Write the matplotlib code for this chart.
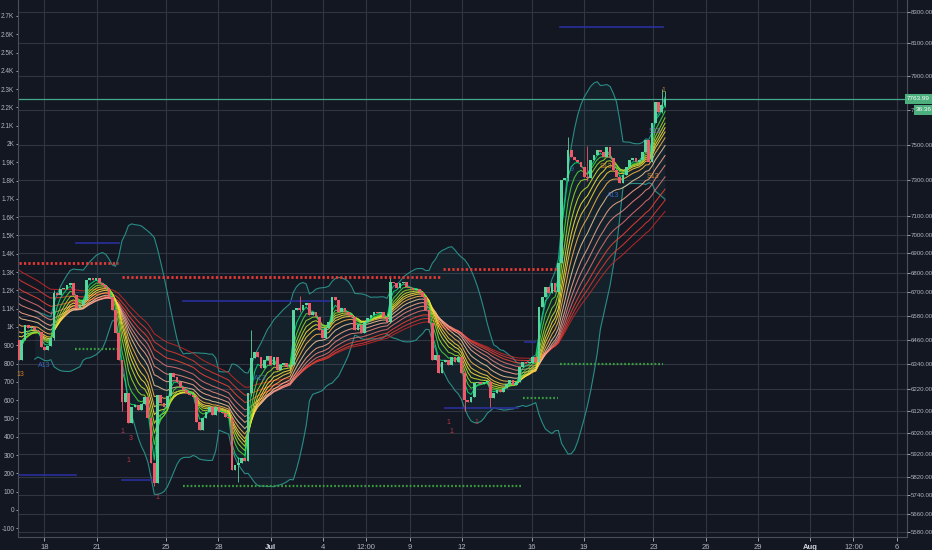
import numpy as np
import pandas as pd
import matplotlib
matplotlib.use("Agg")
import matplotlib.pyplot as plt

# ---- values (left-scale units) ----
first_day = 16.51      # first bar, day counted from Jun 1
last_day = 53.67       # last bar, Jul 23
first_open = 930

closes = [
    # Jun 16 - Jun 24
    820, 930, 1011, 993, 1002, 984, 975, 893, 875, 896, 938, 1184, 1175, 1206,
    1210, 1230, 1240, 1175, 1102, 1120, 1145, 1257, 1266, 1257, 1266, 1239, 1230,
    1212, 1166, 1093, 965, 820, 592, 637, 473, 565, 575, 546, 580, 619, 501, 255,
    145, 628,
    # Jun 25 - Jul 4
    583, 565, 620, 747, 729, 701, 674, 656, 638, 628, 619, 483, 437, 501, 537,
    565, 519, 565, 537, 528, 510, 500, 218, 246, 255, 282, 270, 638, 829, 865,
    838, 774, 820, 842, 793, 838, 765, 792, 802, 783, 792, 1093, 1102, 1093,
    1120, 1130, 1066, 1084, 1057, 984, 938,
    # Jul 4 - Jul 10
    993, 1029, 1166, 1150, 1084, 1102, 1084, 1066, 1057, 984, 1011, 966, 1029,
    1047, 1066, 1084, 1075, 1084, 1057, 1029, 1248, 1239, 1212, 1239, 1248, 1221,
    1212, 1203, 1206, 1193, 1166, 1093, 1020, 820,
    # Jul 10 - Jul 17
    847, 747, 811, 820, 792, 838, 811, 838, 747, 601, 592, 619, 692, 701, 690,
    700, 701, 610, 638, 656, 647, 665, 690, 710, 683, 701, 783, 811, 802, 802,
    838, 811, 1111, 1166, 1221, 1184, 1239, 1193, 1348, 1803,
    # Jul 17 - Jul 23
    1813, 1967, 1931, 1913, 1904, 1876, 1822, 1813, 1913, 1940, 1967, 1958, 1931,
    1986, 1922, 1858, 1822, 1785, 1831, 1876, 1913, 1922, 1904, 1913, 1958, 2022,
    1904, 2113, 2232, 2177, 2213, 2246,
]

# longer wicks that stand out: bar index -> (high, low)
wicks = {11: (1200, 930), 32: (820, 540), 42: (255, 130), 68: (290, 150),
         72: (984, 620), 87: (1170, 1080), 115: (1270, 1020), 138: (760, 540),
         146: (710, 560), 170: (2040, 1800), 176: (1990, 1800),
         199: (2300, 2170), 200: (2290, 2200)}

ribbon_periods = [3, 5, 7, 9, 11, 13, 16, 20, 25, 30, 36, 43, 50, 58]
ribbon_start = [900, 910, 930, 950, 975, 1000, 1040, 1080, 1110, 1150, 1190, 1230, 1280, 1330]
ribbon_colors = ['#00e676', '#4cdc3a', '#9be22c', '#cde62a', '#ffeb3b', '#ffd740',
                 '#ffb74d', '#f0c89a', '#ffab91', '#ef8a80', '#e57373', '#f44336',
                 '#e53935', '#c62828']

red_levels = [(1350, 16.51, 22.25), (1275, 22.48, 40.86), (1317, 40.92, 47.47)]
green_levels = [(878, 19.78, 22.19), (132, 25.98, 45.46), (612, 45.5, 47.5), (795, 47.64, 53.55)]
navy_levels = [(190, 16.51, 19.84), (1459, 19.84, 22.3), (162, 22.48, 24.38),
               (1144, 25.98, 34.43), (556, 41.0, 45.2), (920, 45.6, 46.2), (2642, 47.64, 53.55)]

td_text = ["13", "A13", "A13", "9", "S13", "A13", "S13", "S13", "1",
           "1", "3", "1", "1", "1", "1", "1"]
td_day = [16.62, 18.0, 30.4, 48.3, 50.3, 50.7, 53.0, 53.1, 53.6,
          22.5, 22.95, 22.8, 24.5, 41.2, 41.4, 42.8]
td_val = [740, 790, 720, 1860, 1875, 1720, 1820, 2066, 2290,
          430, 390, 270, 70, 480, 430, 480]
td_color = ['#e8912d', '#3d6fd1', '#3d6fd1', '#3d6fd1', '#e8912d', '#3d6fd1', '#e8912d',
            '#9575cd', '#e8912d', '#d23c4a', '#d23c4a', '#d23c4a', '#d23c4a',
            '#d23c4a', '#d23c4a', '#d23c4a']

left_ticks = list(range(-100, 2800, 100))
right_labels = ['8300.00', '8100.00', '7900.00', '7', '7500.00', '7300.00', '7100.00',
                '7000.00', '6900.00', '6800.00', '6700.00', '6580.00', '6460.00', '6340.00',
                '6220.00', '6120.00', '6020.00', '5920.00', '5820.00', '5740.00', '5660.00',
                '5580.00']
right_pos = [2722, 2552, 2372, 2186, 1995, 1803, 1607, 1503, 1404, 1295, 1191, 1060, 929,
             797, 661, 540, 420, 305, 180, 81, -23, -121]

x_tick_days = [18, 21, 25, 28, 31, 34, 36.5, 39, 42, 46, 49, 53, 56, 59, 62, 64.5, 67]
x_tick_labels = ["18", "21", "25", "28", "Jul", "4", "12:00", "9", "12", "16", "19", "23",
                 "26", "29", "Aug", "12:00", "6"]

last_price = 2246
last_label = "7763.99"
countdown = "36:36"

# ---- style ----
bg = '#131722'
grid_c = '#323642'
txt_c = '#b2b5be'
up_c = '#56d59c'
dn_c = '#ef5a6a'

plt.rcParams['font.family'] = ['Liberation Sans', 'DejaVu Sans']

fig = plt.figure(figsize=(9.32, 5.5), dpi=100, facecolor=bg)
ax = fig.add_axes([17.5 / 932, 13 / 550, (906.5 - 17.5) / 932, 537 / 550])
ax.set_facecolor(bg)

n = len(closes)
t = np.linspace(first_day, last_day, n)
opens = [first_open] + closes[:-1]

# grid
for v in right_pos:
    ax.axhline(v, color=grid_c, lw=0.8, zorder=0)
for d in x_tick_days:
    ax.axvline(d, color=grid_c, lw=0.8, zorder=0)

# bollinger band
cs = pd.Series(closes, dtype=float)
mid = cs.rolling(20, min_periods=6).mean()
sd = cs.rolling(20, min_periods=6).std(ddof=0)
upper = mid + 2 * sd
lower = mid - 2 * sd
ax.fill_between(t, lower, upper, color='#26a69a', alpha=0.07, lw=0, zorder=1)
ax.plot(t, upper, color='#2a8c86', lw=0.8, zorder=1)
ax.plot(t, lower, color='#2a8c86', lw=0.8, zorder=1)

# ema ribbon
for p, s, col in zip(ribbon_periods[::-1], ribbon_start[::-1], ribbon_colors[::-1]):
    a = 2 / (p + 1)
    e, vals = s, []
    for c in closes:
        e += a * (c - e)
        vals.append(e)
    ax.plot(t, vals, color=col, lw=0.75, alpha=0.85, zorder=2)

# level lines
for v, d0, d1 in red_levels:
    ax.plot([d0, d1], [v, v], color='#e53935', lw=2.0, ls=(0, (0.8, 0.8)), zorder=2)
for v, d0, d1 in green_levels:
    ax.plot([d0, d1], [v, v], color='#3a9a3e', lw=1.6, ls=(0, (0.8, 0.9)), zorder=2)
for v, d0, d1 in navy_levels:
    ax.plot([d0, d1], [v, v], color='#2a2f9c', lw=1.2, zorder=2)

# candles
w = (t[1] - t[0]) * 0.85
for i in range(n):
    o, c = opens[i], closes[i]
    col = up_c if c >= o else dn_c
    hi, lo = wicks.get(i, (max(o, c), min(o, c)))
    ax.vlines(t[i], lo, hi, color=col, lw=0.6, zorder=3)
    body = max(abs(c - o), 5)
    ax.bar(t[i], body, bottom=min(o, c), width=w, color=col, lw=0, zorder=3)

# td labels
for s, d, v, col in zip(td_text, td_day, td_val, td_color):
    ax.text(d, v, s, color=col, fontsize=5, ha='center', va='center', zorder=4, alpha=0.85)

# last price line
ax.axhline(last_price, color='#45a88a', lw=0.9, zorder=2)

ax.set_xlim(16.45, 67.55)
ax.set_ylim(-148, 2787)

# left axis
ax.set_yticks(left_ticks)
ax.set_yticklabels([f"{v / 1000:g}K" if v >= 1000 else str(v) for v in left_ticks])
ax.tick_params(axis='y', colors=txt_c, labelsize=4.7, length=1.5, pad=0.8, width=0.6)
ax.set_xticks(x_tick_days)
ax.set_xticklabels(x_tick_labels)
ax.tick_params(axis='x', colors=txt_c, labelsize=5.5, length=3, pad=2, width=0.6)
for lab in ax.get_xticklabels():
    if lab.get_text() in ("Jul", "Aug"):
        lab.set_fontweight('bold')
        lab.set_color('#d1d4dc')
for sp in ['left', 'bottom', 'right']:
    ax.spines[sp].set_color('#4a4e5a')
    ax.spines[sp].set_linewidth(0.8)
ax.spines['top'].set_visible(False)

# right axis
ax2 = ax.twinx()
ax2.set_ylim(ax.get_ylim())
ax2.set_yticks(right_pos)
ax2.set_yticklabels(right_labels)
ax2.tick_params(axis='y', colors=txt_c, labelsize=4.4, length=2, pad=1, width=0.6)
for sp in ax2.spines.values():
    sp.set_visible(False)

ax2.text(1.0005, last_price, last_label, transform=ax2.get_yaxis_transform(), fontsize=4.6,
         color='white', ha='left', va='center', zorder=10, clip_on=False,
         bbox=dict(boxstyle='square,pad=0.35', fc='#4caf7d', ec='none'))
ax2.text(1.0105, 2186, countdown, transform=ax2.get_yaxis_transform(), fontsize=4.6,
         color='white', ha='left', va='center', zorder=10, clip_on=False,
         bbox=dict(boxstyle='square,pad=0.35', fc='#4caf7d', ec='none'))

fig.savefig('out.png', dpi=100, facecolor=bg)
